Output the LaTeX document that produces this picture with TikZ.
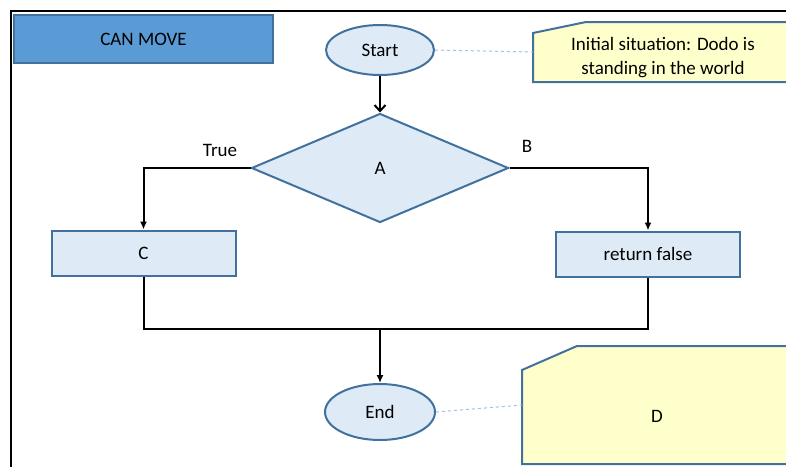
\documentclass[tikz,border=0pt]{standalone}
\usepackage{fontspec}
\setmainfont{Carlito}
\usetikzlibrary{shapes,positioning,arrows.meta}
\definecolor{boxblue}{HTML}{5B9BD5}
\definecolor{edgeblue}{HTML}{41719C}
\definecolor{paleblue}{HTML}{DEEBF7}
\definecolor{paleyellow}{HTML}{FFFFCC}
\definecolor{dashblue}{HTML}{9DC3E6}
\tikzset{%
  every flow/.style={
    draw=edgeblue,
    line width=2pt,
    fill=paleblue,
    inner sep=0pt
  },
  terminal/.style={every flow, ellipse},
  decision/.style={every flow, diamond},
  process/.style={every flow, minimum width=184pt, minimum height=45pt},
  note/.style={draw=edgeblue, line width=2pt, fill=paleyellow},
  link/.style={draw=dashblue, dashed, line width=1pt},
}

\begin{document}
\begin{tikzpicture}[x=1pt,y=-1pt,on grid,line width=2pt,font=\fontsize{19}{24}\selectfont,>={Latex[length=8pt,width=7pt]}]
                    \clip (0,0) rectangle (786,466);
                    \fill[white] (0,0) rectangle (786,466);
                    \draw (11,480) -- (11,11) -- (800,11);
                    \node[every flow, fill=boxblue, minimum width=259pt, minimum height=48pt] (title) at (143.5,39) {CAN MOVE};
                    \node[terminal, minimum width=108pt, minimum height=50pt] (start) at (380,50) {Start};
                    \node[decision, minimum width=257pt, minimum height=109pt] (cond) [below=118pt of start] {A};
                    \node[process] (c) [below left=85pt and 236.5pt of cond] {C};
                    \node[process] (retfalse) [below right=86pt and 268pt of cond] {return false};
                    \node[terminal, minimum width=110pt, minimum height=56pt] (stop) [below=244pt of cond] {End};
                    \node (truelbl) [above left=18pt and 160pt of cond] {True};
                    \node (blbl) [above right=22pt and 147pt of cond] {B};
                    \path (cond) ++(0,161) coordinate (merge);
                    % notes
                    \draw[note] (533,33) -- (586,22) -- (800,22) -- (800,82) -- (533,82) -- cycle;
                    \draw[note] (522,370) -- (577,346) -- (800,346) -- (800,464) -- (522,464) -- cycle;
                    \node[align=center] (situation) at (663,58) {Initial situation: Dodo is\\standing in the world};
                    \node (dnote) at (657,416) {D};
                    \coordinate (sitin) at (533,52);
                    \coordinate (dnotein) at (522,405);
                    \path[link] (start.east) -- (sitin);
                    \path[link] (stop.east) -- (dnotein);
                    \draw[-{Straight Barb[length=6pt,width=11pt]}] (start) -- (cond);
                    \draw[->] (cond.west) -| (c.north);
                    \draw[->] (cond.east) -| (retfalse.north);
                    \draw (c.south) |- (merge) -| (retfalse.south);
                    \draw[->] (merge) -- (stop);
                \end{tikzpicture}
\end{document}
